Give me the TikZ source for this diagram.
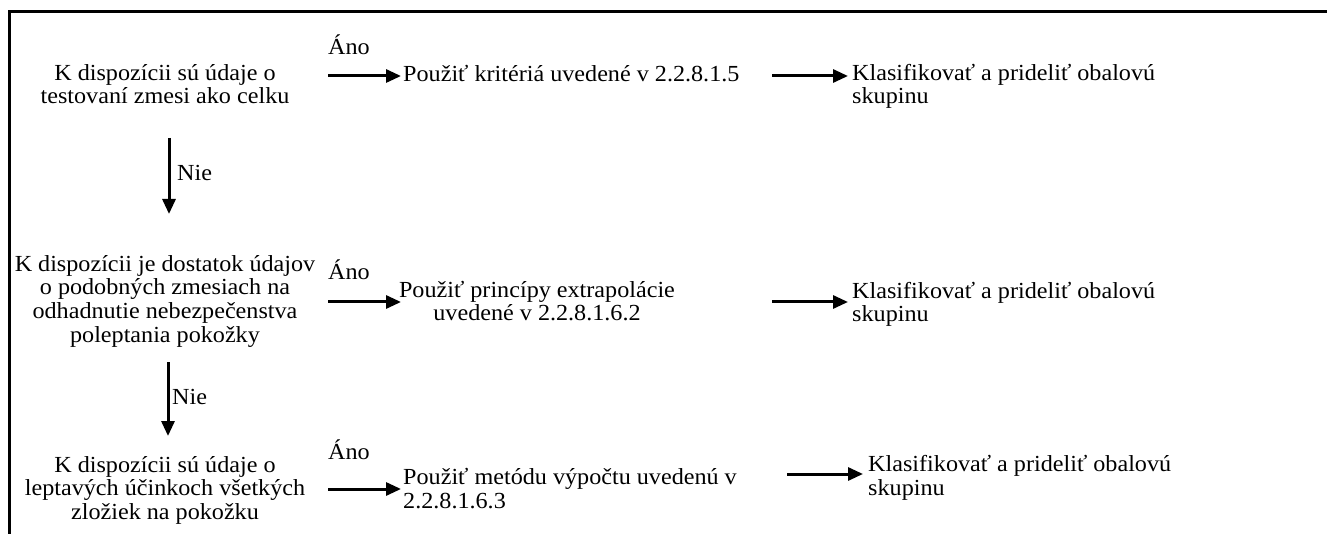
\documentclass[tikz,border=0pt]{standalone}
\usepackage{fontspec}
\setmainfont{Liberation Serif}[FakeStretch=1.05]
\usetikzlibrary{arrows.meta}
\begin{document}
\begin{tikzpicture}[x=1pt,y=-1pt,
  txt/.style={font=\fontsize{23}{23.5}\selectfont, inner sep=0pt, align=center, anchor=base},
  ltxt/.style={font=\fontsize{23}{23.5}\selectfont, inner sep=0pt, align=left, anchor=base west},
  arr/.style={line width=3pt, -{Triangle[length=15pt,width=13pt]}},
  frame/.style={line width=3pt}]
\useasboundingbox (0,0) rectangle (1327,534);
\draw[frame] (9,534) -- (9,12) -- (1327,12);
% questions (anchor = baseline of the last line)
\node[txt] (q1) at (165,104) {K dispozícii sú údaje o\\testovaní zmesi ako celku};
\node[txt] (q2) at (165,342) {K dispozícii je dostatok údajov\\o podobných zmesiach na\\odhadnutie nebezpečenstva\\poleptania pokožky};
\node[txt] (q3) at (165,519) {K dispozícii sú údaje o\\leptavých účinkoch všetkých\\zložiek na pokožku};
% actions
\node[ltxt] (a1) at (403,82) {Použiť kritériá uvedené v 2.2.8.1.5};
\node[txt] (a2) at (537,321) {Použiť princípy extrapolácie\\uvedené v 2.2.8.1.6.2};
\node[ltxt] (a3) at (403,508) {Použiť metódu výpočtu uvedenú v\\2.2.8.1.6.3};
% results
\node[ltxt] (k1) at (852,104) {Klasifikovať a prideliť obalovú\\skupinu};
\node[ltxt] (k2) at (852,322) {Klasifikovať a prideliť obalovú\\skupinu};
\node[ltxt] (k3) at (868,495) {Klasifikovať a prideliť obalovú\\skupinu};
% labels
\node[ltxt] (y1) at (328,55) {Áno};
\node[ltxt] (y2) at (328,280) {Áno};
\node[ltxt] (y3) at (328,459) {Áno};
\node[ltxt] (n1) at (177,181) {Nie};
\node[ltxt] (n2) at (172,404) {Nie};
% connector ends
\coordinate (s1) at (328,76);
\coordinate (e1) at (401,76);
\coordinate (t1) at (772,76);
\coordinate (u1) at (848,76);
\coordinate (s2) at (328,302);
\coordinate (e2) at (401,302);
\coordinate (t2) at (772,302);
\coordinate (u2) at (848,302);
\coordinate (s3) at (328,489);
\coordinate (e3) at (401,489);
\coordinate (t3) at (787,474);
\coordinate (u3) at (863,474);
\coordinate (d1) at (169,138);
\coordinate (f1) at (169,214);
\coordinate (d2) at (168,362);
\coordinate (f2) at (168,436);
\draw[arr] (s1) -- (e1);
\draw[arr] (t1) -- (u1);
\draw[arr] (s2) -- (e2);
\draw[arr] (t2) -- (u2);
\draw[arr] (s3) -- (e3);
\draw[arr] (t3) -- (u3);
\draw[arr] (d1) -- (f1);
\draw[arr] (d2) -- (f2);
\end{tikzpicture}
\end{document}
